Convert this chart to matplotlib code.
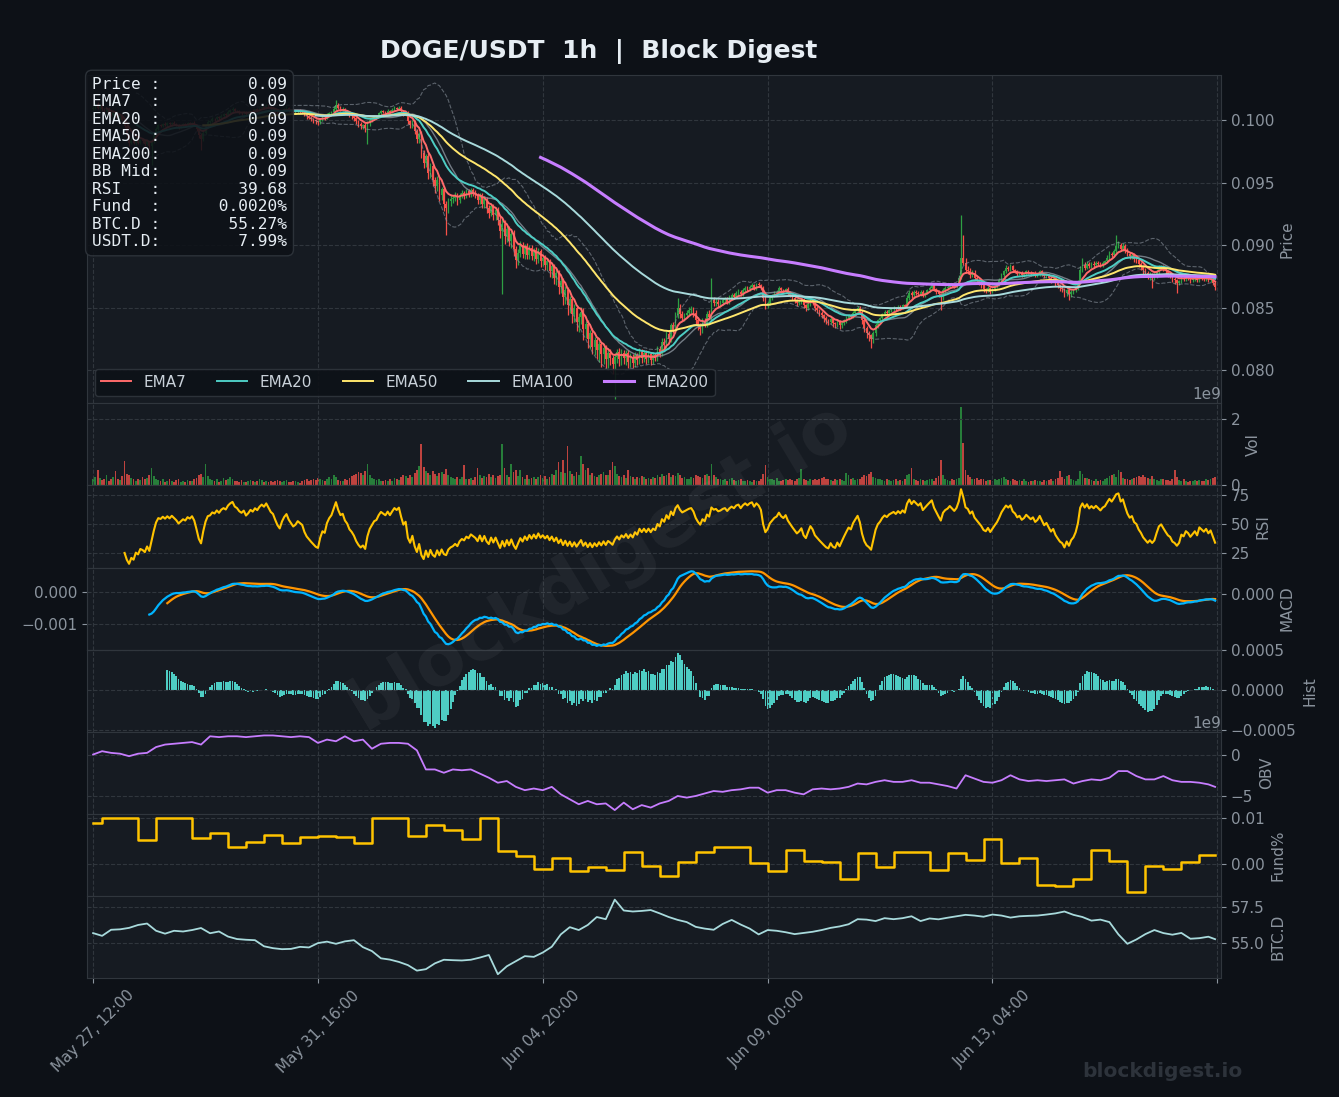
import numpy as np
import pandas as pd
import matplotlib
matplotlib.use("Agg")
import matplotlib.pyplot as plt
from matplotlib.ticker import MultipleLocator, FuncFormatter, FormatStrFormatter
from matplotlib.lines import Line2D

# ---------------- data ----------------
START = "2025-05-27 12:00"
FIRST_OPEN_E5 = 10090

CLOSE_E5 = [
    10100, 10130, 10095, 10120, 10085, 10070, 10090, 10055, 10040, 10060,
    10030, 10015, 10030, 10000, 9950, 9880, 9820, 9840, 9815, 9840,
    9820, 9840, 9830, 9810, 9830, 9790, 9830, 9880, 9930, 9960,
    9955, 9970, 9960, 9975, 9965, 9980, 9970, 9960, 9945, 9955,
    9965, 9960, 9975, 9970, 9980, 9965, 9930, 9880, 9850, 9900,
    9950, 9985, 9990, 10010, 10005, 10025, 10015, 10035, 10045, 10040,
    10065, 10080, 10090, 10075, 10070, 10060, 10055, 10065, 10050, 10060,
    10075, 10070, 10085, 10080, 10095, 10105, 10100, 10115, 10105, 10095,
    10090, 10075, 10060, 10050, 10070, 10085, 10095, 10080, 10070, 10060,
    10065, 10075, 10070, 10065, 10045, 10030, 10020, 10010, 10000, 9990,
    9985, 10005, 10020, 10015, 10040, 10055, 10065, 10090, 10120, 10100,
    10085, 10090, 10070, 10060, 10040, 10030, 10015, 9990, 9970, 9955,
    9960, 9940, 9975, 10000, 10015, 10030, 10035, 10055, 10070, 10065,
    10060, 10075, 10065, 10080, 10095, 10090, 10100, 10075, 10050, 10060,
    9990, 9960, 9985, 9910, 9850, 9885, 9740, 9660, 9710, 9580,
    9630, 9520, 9470, 9520, 9400, 9450, 9330, 9300, 9350, 9370,
    9380, 9400, 9360, 9400, 9420, 9400, 9430, 9410, 9440, 9420,
    9400, 9360, 9400, 9330, 9370, 9300, 9260, 9310, 9240, 9280,
    9200, 9110, 9170, 9070, 9130, 9030, 9090, 8970, 8880, 8940,
    9000, 8930, 8990, 8920, 8980, 8910, 8960, 8890, 8950, 8870,
    8900, 8840, 8870, 8790, 8830, 8740, 8780, 8670, 8710, 8590,
    8640, 8520, 8570, 8450, 8500, 8390, 8430, 8470, 8330, 8370,
    8250, 8300, 8190, 8240, 8160, 8210, 8130, 8180, 8090, 8140,
    8100, 8050, 8110, 8150, 8090, 8140, 8100, 8140, 8070, 8110,
    8060, 8120, 8080, 8150, 8100, 8140, 8090, 8130, 8080, 8120,
    8100, 8170, 8140, 8230, 8200, 8290, 8250, 8360, 8320, 8440,
    8500, 8450, 8420, 8440, 8460, 8480, 8490, 8460, 8400, 8360,
    8330, 8390, 8370, 8450, 8430, 8560, 8540, 8550, 8530, 8540,
    8560, 8570, 8550, 8580, 8600, 8590, 8620, 8630, 8610, 8640,
    8660, 8650, 8670, 8680, 8660, 8690, 8680, 8660, 8580, 8520,
    8540, 8580, 8600, 8620, 8630, 8660, 8640, 8630, 8650, 8620,
    8600, 8580, 8560, 8540, 8550, 8565, 8520, 8500, 8530, 8560,
    8540, 8500, 8480, 8460, 8440, 8420, 8400, 8390, 8410, 8380,
    8370, 8390, 8360, 8380, 8400, 8420, 8440, 8430, 8460, 8480,
    8500, 8470, 8400, 8340, 8300, 8280, 8250, 8300, 8360, 8400,
    8420, 8450, 8470, 8460, 8480, 8490, 8500, 8490, 8510, 8500,
    8520, 8510, 8580, 8620, 8600, 8630, 8620, 8610, 8630, 8600,
    8620, 8640, 8660, 8680, 8650, 8630, 8610, 8590, 8640, 8660,
    8670, 8690, 8680, 8670, 8690, 8740, 8900, 8860, 8800, 8790,
    8760, 8780, 8740, 8720, 8700, 8680, 8650, 8640, 8660, 8630,
    8650, 8670, 8690, 8720, 8760, 8790, 8820, 8810, 8830, 8800,
    8790, 8770, 8780, 8760, 8770, 8790, 8780, 8770, 8780, 8760,
    8770, 8790, 8770, 8750, 8760, 8740, 8720, 8730, 8700, 8680,
    8660, 8650, 8620, 8640, 8610, 8630, 8640, 8660, 8700, 8800,
    8840, 8820, 8850, 8830, 8850, 8840, 8860, 8850, 8840, 8860,
    8870, 8900, 8930, 8920, 8950, 8990, 9000, 8970, 8990, 8960,
    8930, 8910, 8920, 8890, 8880, 8850, 8830, 8800, 8780, 8760,
    8770, 8750, 8760, 8790, 8820, 8830, 8810, 8790, 8770, 8760,
    8730, 8720, 8700, 8710, 8740, 8730, 8750, 8740, 8720, 8730,
    8740, 8720, 8750, 8740, 8730, 8740, 8720, 8730, 8700, 8665,
]

HI_WICK_E5 = [
    12, 8, 15, 10, 6, 14, 9, 11, 7, 13,
    10, 8, 12, 6, 9, 7, 10, 14, 8, 11,
    9, 12, 7, 10, 8, 6, 20, 15, 18, 12,
    10, 8, 14, 9, 11, 7, 12, 8, 10, 6,
    9, 11, 8, 12, 7, 10, 6, 9, 14, 20,
    18, 12, 9, 11, 8, 10, 7, 12, 9, 11,
    14, 10, 12, 8, 9, 11, 7, 10, 8, 12,
    9, 11, 7, 10, 12, 8, 9, 13, 10, 7,
    8, 10, 6, 9, 12, 10, 14, 8, 9, 7,
    10, 8, 11, 7, 9, 6, 8, 10, 7, 9,
    8, 12, 10, 9, 14, 12, 10, 25, 40, 18,
    15, 12, 10, 8, 11, 9, 7, 10, 8, 12,
    10, 14, 20, 15, 12, 10, 9, 13, 11, 8,
    10, 12, 9, 14, 18, 11, 15, 10, 8, 12,
    10, 14, 12, 18, 15, 20, 25, 22, 18, 30,
    25, 20, 28, 30, 22, 18, 25, 20, 30, 28,
    22, 25, 18, 20, 24, 15, 22, 18, 20, 16,
    18, 14, 20, 16, 22, 18, 25, 20, 18, 22,
    25, 30, 40, 28, 22, 20, 25, 30, 22, 28,
    30, 25, 22, 28, 20, 24, 18, 22, 26, 20,
    24, 20, 18, 22, 25, 20, 28, 24, 30, 26,
    35, 30, 25, 28, 30, 22, 26, 35, 28, 25,
    30, 25, 35, 28, 22, 25, 20, 28, 24, 22,
    30, 25, 28, 22, 25, 30, 20, 24, 22, 26,
    20, 25, 22, 28, 20, 18, 22, 25, 20, 24,
    22, 28, 25, 30, 28, 25, 30, 22, 28, 25,
    80, 30, 25, 22, 20, 25, 22, 18, 20, 25,
    22, 25, 30, 28, 35, 180, 30, 25, 20, 22,
    18, 20, 15, 22, 18, 20, 15, 18, 14, 16,
    15, 18, 12, 16, 14, 12, 15, 10, 14, 12,
    15, 18, 14, 16, 12, 15, 10, 14, 12, 15,
    12, 10, 14, 12, 10, 15, 12, 10, 14, 18,
    12, 10, 14, 11, 13, 10, 12, 9, 14, 11,
    10, 12, 9, 13, 11, 14, 12, 10, 15, 12,
    14, 12, 10, 13, 11, 15, 12, 18, 15, 12,
    10, 12, 9, 11, 13, 10, 12, 9, 11, 10,
    12, 14, 20, 25, 18, 15, 12, 14, 11, 13,
    10, 12, 14, 18, 12, 10, 13, 11, 15, 12,
    10, 12, 9, 11, 10, 20, 340, 180, 40, 30,
    25, 20, 18, 15, 12, 14, 10, 12, 11, 9,
    12, 10, 14, 16, 18, 15, 20, 14, 16, 12,
    10, 12, 9, 11, 10, 12, 9, 11, 8, 10,
    9, 12, 10, 8, 11, 9, 10, 8, 12, 9,
    10, 12, 9, 11, 10, 12, 9, 14, 20, 30,
    60, 25, 20, 18, 15, 20, 14, 16, 12, 15,
    14, 20, 25, 18, 22, 90, 30, 20, 25, 18,
    15, 18, 14, 16, 12, 14, 12, 10, 14, 11,
    12, 10, 14, 16, 20, 15, 12, 14, 10, 12,
    10, 14, 12, 10, 12, 9, 11, 10, 8, 12,
    10, 12, 9, 11, 10, 12, 9, 10, 8, 10,
]

LO_WICK_E5 = [
    10, 12, 8, 14, 9, 11, 7, 13, 10, 8,
    12, 9, 11, 8, 15, 20, 25, 12, 10, 14,
    11, 9, 13, 15, 10, 20, 150, 14, 10, 12,
    9, 11, 8, 12, 10, 14, 9, 11, 15, 10,
    8, 12, 10, 9, 11, 14, 20, 25, 90, 15,
    12, 10, 14, 9, 11, 8, 12, 10, 9, 13,
    10, 8, 12, 14, 9, 11, 13, 8, 15, 10,
    9, 12, 8, 11, 10, 9, 12, 8, 10, 14,
    12, 15, 18, 20, 10, 9, 8, 12, 14, 11,
    10, 9, 12, 11, 15, 18, 14, 16, 20, 18,
    22, 15, 12, 14, 10, 9, 12, 10, 15, 14,
    12, 10, 14, 16, 18, 20, 22, 25, 28, 30,
    25, 35, 130, 20, 15, 12, 10, 9, 11, 12,
    10, 9, 12, 8, 10, 11, 9, 14, 18, 20,
    18, 22, 20, 25, 30, 35, 40, 45, 38, 50,
    40, 45, 50, 35, 48, 40, 55, 220, 40, 35,
    30, 28, 35, 25, 22, 30, 25, 28, 22, 26,
    24, 28, 30, 35, 32, 40, 45, 30, 38, 42,
    40, 55, 500, 60, 45, 40, 50, 60, 65, 40,
    35, 30, 38, 28, 32, 30, 35, 40, 32, 45,
    38, 35, 42, 45, 50, 48, 55, 60, 55, 70,
    60, 80, 65, 70, 60, 75, 80, 60, 85, 70,
    75, 80, 60, 65, 70, 90, 100, 80, 75, 70,
    60, 80, 280, 50, 55, 45, 50, 60, 55, 45,
    40, 35, 38, 30, 42, 35, 40, 32, 35, 30,
    28, 25, 30, 22, 25, 20, 22, 25, 20, 22,
    25, 30, 28, 25, 22, 20, 25, 30, 35, 40,
    45, 30, 25, 22, 20, 25, 22, 28, 25, 22,
    20, 18, 22, 16, 15, 18, 14, 16, 18, 15,
    14, 16, 12, 15, 18, 14, 12, 16, 25, 30,
    22, 18, 15, 14, 16, 12, 15, 14, 12, 16,
    15, 18, 20, 22, 18, 20, 25, 22, 18, 15,
    18, 22, 25, 28, 24, 30, 28, 25, 22, 30,
    28, 25, 30, 22, 20, 18, 16, 15, 14, 12,
    15, 20, 30, 35, 40, 45, 70, 30, 25, 20,
    18, 15, 14, 12, 15, 14, 12, 15, 13, 14,
    12, 15, 14, 20, 18, 15, 14, 16, 12, 15,
    14, 12, 15, 13, 16, 18, 20, 110, 25, 18,
    15, 12, 14, 13, 12, 15, 12, 20, 25, 22,
    20, 18, 22, 25, 20, 18, 22, 20, 16, 18,
    15, 14, 12, 15, 13, 14, 12, 15, 13, 16,
    14, 15, 12, 16, 13, 14, 12, 15, 14, 16,
    13, 14, 15, 12, 16, 18, 20, 15, 22, 25,
    28, 25, 30, 22, 50, 20, 18, 15, 14, 12,
    14, 15, 12, 14, 13, 15, 12, 14, 16, 12,
    14, 12, 15, 13, 12, 14, 16, 18, 15, 20,
    18, 22, 20, 25, 22, 28, 25, 30, 28, 30,
    35, 90, 25, 20, 18, 15, 20, 22, 25, 20,
    25, 30, 80, 20, 15, 18, 14, 16, 20, 15,
    14, 16, 12, 15, 13, 14, 16, 15, 20, 22,
]

VOL_E7 = [
    18, 25, 47, 22, 15, 20, 30, 12, 18, 24,
    42, 20, 16, 28, 73, 35, 30, 22, 18, 14,
    20, 16, 25, 18, 22, 30, 53, 28, 20, 15,
    12, 18, 10, 14, 20, 12, 9, 15, 18, 11,
    13, 10, 16, 12, 14, 18, 22, 30, 35, 25,
    66, 28, 20, 15, 12, 18, 10, 14, 22, 16,
    20, 25, 18, 14, 12, 10, 15, 11, 9, 13,
    16, 12, 10, 14, 18, 15, 11, 13, 9, 12,
    10, 14, 16, 12, 10, 13, 15, 9, 11, 12,
    14, 10, 8, 12, 15, 18, 14, 16, 20, 17,
    22, 18, 15, 12, 20, 26, 18, 30, 24, 16,
    14, 12, 18, 16, 22, 28, 30, 35, 40, 38,
    30, 44, 66, 30, 22, 18, 15, 20, 14, 12,
    16, 12, 18, 14, 22, 20, 15, 25, 30, 28,
    22, 30, 26, 38, 45, 60, 124, 56, 42, 38,
    30, 42, 35, 28, 36, 40, 33, 48, 30, 25,
    22, 20, 26, 18, 24, 61, 20, 18, 22, 16,
    25, 52, 30, 22, 28, 26, 35, 24, 30, 22,
    28, 32, 126, 52, 30, 25, 66, 40, 47, 28,
    47, 25, 20, 30, 18, 22, 26, 20, 24, 30,
    22, 28, 20, 26, 35, 30, 45, 71, 40, 76,
    38, 120, 42, 35, 28, 40, 30, 90, 66, 45,
    52, 30, 38, 28, 25, 30, 35, 40, 32, 30,
    45, 71, 60, 35, 28, 25, 30, 22, 47, 28,
    24, 20, 26, 22, 28, 24, 18, 22, 20, 25,
    22, 30, 26, 35, 28, 30, 38, 24, 32, 28,
    36, 30, 22, 25, 20, 18, 24, 22, 30, 28,
    26, 22, 30, 35, 28, 66, 30, 24, 20, 18,
    16, 20, 14, 18, 22, 16, 12, 15, 18, 14,
    12, 16, 14, 10, 15, 12, 14, 18, 35, 61,
    25, 20, 18, 16, 22, 14, 12, 16, 18, 15,
    20, 16, 14, 18, 22, 49, 20, 16, 14, 18,
    16, 20, 15, 18, 22, 25, 20, 18, 16, 14,
    18, 15, 20, 16, 14, 37, 30, 18, 22, 16,
    20, 18, 25, 30, 28, 35, 40, 24, 22, 20,
    18, 16, 14, 20, 16, 12, 15, 18, 14, 16,
    14, 18, 30, 35, 52, 20, 16, 14, 18, 15,
    12, 16, 20, 18, 14, 22, 28, 76, 30, 20,
    16, 14, 18, 15, 20, 22, 235, 127, 47, 30,
    25, 20, 18, 22, 16, 20, 18, 14, 16, 15,
    14, 18, 16, 20, 22, 25, 18, 16, 14, 18,
    15, 12, 16, 14, 18, 12, 10, 14, 12, 16,
    14, 12, 10, 15, 13, 16, 18, 14, 20, 22,
    42, 25, 20, 28, 30, 18, 16, 14, 20, 42,
    35, 22, 22, 18, 16, 14, 18, 12, 15, 14,
    18, 22, 28, 30, 35, 25, 47, 40, 22, 18,
    20, 16, 18, 22, 26, 28, 24, 30, 26, 22,
    20, 28, 18, 16, 14, 20, 18, 15, 16, 14,
    20, 47, 25, 16, 14, 18, 12, 10, 14, 12,
    15, 13, 16, 12, 14, 18, 15, 20, 22, 25,
]

# funding rate (%), one value per 8h funding period
FUND_PCT = [
    0.0090, 0.0101, 0.0101, 0.0053, 0.0101, 0.0101, 0.0056, 0.0067, 0.0036, 0.0048,
    0.0063, 0.0046, 0.0058, 0.0060, 0.0058, 0.0046, 0.0101, 0.0101, 0.0060, 0.0084,
    0.0075, 0.0054, 0.0101, 0.0029, 0.0017, -0.0011, 0.0014, -0.0014, -0.0007, -0.0012,
    0.0027, -0.0004, -0.0027, 0.0004, 0.0027, 0.0036, 0.0036, 0.0002, -0.0015, 0.0031,
    0.0006, 0.0004, -0.0033, 0.0025, -0.0007, 0.0027, 0.0027, -0.0012, 0.0025, 0.0009,
    0.0054, 0.0002, 0.0013, -0.0045, -0.0047, -0.0033, 0.0030, 0.0007, -0.0061, -0.0004,
    -0.0011, 0.0004, 0.0020,
]

# OBV (units of 1e8) and BTC dominance (units of 0.01 %), sampled every 4 hours
OBV_E8 = [
    0, 4, 2, 1, -2, 1, 2, 9, 12, 13,
    14, 15, 12, 22, 21, 22, 22, 21, 22, 23,
    23, 22, 21, 22, 21, 14, 18, 16, 22, 16,
    18, 7, 13, 14, 14, 13, 5, -18, -18, -22,
    -18, -19, -18, -23, -28, -34, -32, -39, -43, -41,
    -43, -39, -48, -54, -60, -56, -60, -59, -67, -58,
    -66, -61, -64, -59, -56, -50, -52, -50, -47, -44,
    -45, -43, -42, -40, -40, -46, -43, -43, -46, -48,
    -42, -41, -42, -41, -39, -35, -36, -33, -31, -33,
    -33, -31, -34, -34, -36, -38, -41, -25, -29, -33,
    -34, -31, -25, -30, -32, -31, -32, -31, -30, -35,
    -32, -30, -31, -28, -20, -20, -26, -30, -30, -26,
    -31, -33, -33, -34, -36, -39,
]
BTCD_E2 = [
    5569, 5550, 5592, 5595, 5605, 5625, 5635, 5585, 5565, 5585,
    5580, 5590, 5604, 5568, 5580, 5545, 5528, 5523, 5520, 5478,
    5465, 5458, 5460, 5474, 5470, 5500, 5510, 5495, 5512, 5520,
    5472, 5445, 5395, 5386, 5370, 5348, 5310, 5320, 5360, 5385,
    5382, 5380, 5385, 5400, 5418, 5285, 5340, 5375, 5410, 5405,
    5435, 5475, 5560, 5610, 5590, 5625, 5680, 5665, 5800, 5725,
    5718, 5722, 5728, 5705, 5680, 5660, 5645, 5612, 5600, 5592,
    5632, 5660, 5628, 5600, 5560, 5590, 5585, 5575, 5562, 5570,
    5578, 5590, 5605, 5615, 5630, 5665, 5662, 5652, 5672, 5665,
    5672, 5685, 5652, 5670, 5664, 5675, 5685, 5695, 5690, 5682,
    5697, 5690, 5676, 5685, 5688, 5690, 5697, 5705, 5718, 5695,
    5680, 5655, 5662, 5645, 5560, 5495, 5525, 5562, 5590, 5569,
    5558, 5570, 5530, 5534, 5544, 5527,
]

INFO_RSI = 39.68
INFO_FUND = 0.0020
INFO_BTCD = 55.27
INFO_USDTD = 7.99

# ---------------- derived series ----------------
N = len(CLOSE_E5)
for name, arr in [("hi", HI_WICK_E5), ("lo", LO_WICK_E5), ("vol", VOL_E7)]:
    if len(arr) != N:
        raise ValueError(f"{name} length {len(arr)} != {N}")

x = np.arange(N)
dates = pd.date_range(START, periods=N, freq="h")
close = np.array(CLOSE_E5) * 1e-5
opn = np.r_[FIRST_OPEN_E5 * 1e-5, close[:-1]]
high = np.maximum(opn, close) + np.array(HI_WICK_E5) * 1e-5
low = np.minimum(opn, close) - np.array(LO_WICK_E5) * 1e-5
vol = np.array(VOL_E7) * 1e7
s = pd.Series(close)

ema = {n: s.ewm(span=n, adjust=False, min_periods=n).mean() for n in (7, 20, 50, 100, 200)}
bb_mid = s.rolling(20).mean()
bb_std = s.rolling(20).std()
bb_up, bb_dn = bb_mid + 2 * bb_std, bb_mid - 2 * bb_std

delta = s.diff()
gain = delta.clip(lower=0).ewm(alpha=1 / 14, adjust=True, min_periods=14).mean()
loss = (-delta.clip(upper=0)).ewm(alpha=1 / 14, adjust=True, min_periods=14).mean()
rsi = 100 - 100 / (1 + gain / loss)

ema12 = s.ewm(span=12, adjust=False, min_periods=12).mean()
ema26 = s.ewm(span=26, adjust=False, min_periods=26).mean()
macd = ema12 - ema26
signal = macd.ewm(span=9, adjust=False, min_periods=9).mean()
hist = macd - signal

fund_hours = [0] + list(range(4, N, 8))
fund_x = fund_hours + [N - 1]
fund_y = FUND_PCT + [FUND_PCT[-1]]

samp_hours = list(range(0, N, 4)) + [N - 1]

# ---------------- style ----------------
BG = "#0d1117"
PANEL = "#161b22"
GRID = "#30363d"
TXT = "#8b949e"
UP = "#2ea043"
DN = "#f85149"

fig = plt.figure(figsize=(13.39, 10.97), dpi=100, facecolor=BG)
gs = fig.add_gridspec(8, 1, height_ratios=[4, 1, 1, 1, 1, 1, 1, 1],
                      left=0.065, right=0.912, top=0.9316, bottom=0.1085, hspace=0)
axes = [fig.add_subplot(gs[0])]
for i in range(1, 8):
    axes.append(fig.add_subplot(gs[i], sharex=axes[0]))
ax_p, ax_v, ax_r, ax_m, ax_h, ax_o, ax_f, ax_b = axes


def style(ax, label):
    ax.set_facecolor(PANEL)
    for sp in ax.spines.values():
        sp.set_color(GRID)
    ax.grid(True, color=GRID, linestyle="--", linewidth=0.8)
    ax.yaxis.tick_right()
    ax.yaxis.set_label_position("right")
    ax.tick_params(colors=TXT, labelsize=11)
    ax.set_ylabel(label, color=TXT, fontsize=11)
    ax.yaxis.get_offset_text().set_color(TXT)
    ax.yaxis.get_offset_text().set_fontsize(11)


for ax, lab in zip(axes, ["Price", "Vol", "RSI", "", "Hist", "OBV", "Fund%", "BTC.D"]):
    style(ax, lab)

colors = np.where(close >= opn, UP, DN)

# price panel
ax_p.vlines(x, low, high, colors=colors, linewidth=0.9, zorder=2)
body = np.maximum(np.abs(close - opn), 0.00002)
ax_p.bar(x, body, bottom=np.minimum(opn, close), width=0.75, color=colors, linewidth=0, zorder=2)
ax_p.plot(x, bb_up, color=TXT, linestyle="--", linewidth=0.8, alpha=0.6, zorder=3)
ax_p.plot(x, bb_dn, color=TXT, linestyle="--", linewidth=0.8, alpha=0.6, zorder=3)
ax_p.plot(x, bb_mid, color=TXT, linewidth=1.0, alpha=0.8, zorder=3)
ema_style = {7: ("#ff6b6b", 1.4), 20: ("#4ecdc4", 1.4), 50: ("#ffe66d", 1.4),
             100: ("#a8dadc", 1.4), 200: ("#c77dff", 2.2)}
handles = []
for n, (c, lw) in ema_style.items():
    ax_p.plot(x, ema[n], color=c, linewidth=lw, zorder=4)
    handles.append(Line2D([], [], color=c, linewidth=lw, label=f"EMA{n}"))
ax_p.set_ylim(0.07736, 0.1036)
ax_p.yaxis.set_major_locator(MultipleLocator(0.005))
ax_p.yaxis.set_major_formatter(FormatStrFormatter("%.3f"))
leg = ax_p.legend(handles=handles, loc="lower left", ncol=5, fontsize=11,
                  facecolor=BG, edgecolor=GRID, framealpha=0.9)
for t in leg.get_texts():
    t.set_color("#c9d1d9")

info_rows = [
    ("Price", f"{close[-1]:.2f}"),
    ("EMA7", f"{ema[7].iloc[-1]:.2f}"),
    ("EMA20", f"{ema[20].iloc[-1]:.2f}"),
    ("EMA50", f"{ema[50].iloc[-1]:.2f}"),
    ("EMA200", f"{ema[200].iloc[-1]:.2f}"),
    ("BB Mid", f"{bb_mid.iloc[-1]:.2f}"),
    ("RSI", f"{INFO_RSI:.2f}"),
    ("Fund", f"{INFO_FUND:.4f}%"),
    ("BTC.D", f"{INFO_BTCD:.2f}%"),
    ("USDT.D", f"{INFO_USDTD:.2f}%"),
]
info = "\n".join(f"{k:<6}:{v:>13}" for k, v in info_rows)
ax_p.text(0.0044, 0.995, info, transform=ax_p.transAxes, ha="left", va="top",
          family="DejaVu Sans Mono", fontsize=11.6, color="#e6edf3", linespacing=1.21,
          zorder=10,
          bbox=dict(boxstyle="round,pad=0.4", facecolor=BG, edgecolor=GRID, alpha=0.88))

# volume
ax_v.bar(x, vol, width=0.8, color=colors, alpha=0.75, linewidth=0)
ax_v.yaxis.set_major_locator(MultipleLocator(2e9))

# RSI
ax_r.plot(x, rsi, color="#ffc300", linewidth=1.5)
ax_r.yaxis.set_major_locator(MultipleLocator(25))

# MACD (signal on left axis, MACD on twin right axis)
ax_m2 = ax_m.twinx()
ax_m.plot(x, signal, color="#ff9500", linewidth=1.6)
ax_m2.plot(x, macd, color="#00b4ff", linewidth=1.6)
ax_m.yaxis.set_major_locator(MultipleLocator(0.001))
ax_m2.yaxis.set_major_locator(MultipleLocator(0.002))
ax_m.tick_params(colors=TXT, labelsize=11)
ax_m2.tick_params(colors=TXT, labelsize=11)
for sp in ax_m2.spines.values():
    sp.set_color(GRID)
ax_m2.set_ylabel("MACD", color=TXT, fontsize=11)

# histogram
ax_h.bar(x, hist, width=0.8, color="#4ecdc4")
ax_h.yaxis.set_major_locator(MultipleLocator(0.0005))

# OBV
ax_o.plot(samp_hours, np.array(OBV_E8) * 1e8, color="#c77dff", linewidth=1.3)
ax_o.yaxis.set_major_locator(MultipleLocator(5e9))

# funding
ax_f.step(fund_x, fund_y, where="post", color="#ffc300", linewidth=1.8)
ax_f.yaxis.set_major_locator(MultipleLocator(0.01))
ax_f.yaxis.set_major_formatter(FormatStrFormatter("%.2f"))

# BTC dominance
ax_b.plot(samp_hours, np.array(BTCD_E2) / 100, color="#a8dadc", linewidth=1.3)
ax_b.yaxis.set_major_locator(MultipleLocator(2.5))
ax_b.yaxis.set_major_formatter(FormatStrFormatter("%.1f"))

# x axis
ax_b.set_xlim(-2.7, N + 1.7)
ax_b.xaxis.set_major_locator(MultipleLocator(100))
ax_b.xaxis.set_major_formatter(FuncFormatter(
    lambda v, pos: dates[int(round(v))].strftime("%b %d, %H:%M") if 0 <= int(round(v)) < N else ""))
for ax in axes[:-1]:
    ax.tick_params(axis="x", labelbottom=False, length=0)
for lbl in ax_b.get_xticklabels():
    lbl.set_rotation(45)
    lbl.set_ha("center")
ax_b.tick_params(axis="x", labelsize=11, colors=TXT)

fig.text(0.4474, 0.9526, "DOGE/USDT  1h  |  Block Digest", ha="center", va="center",
         fontsize=18, fontweight="bold", color="#e6edf3")
fig.text(0.448, 0.485, "blockdigest.io", ha="center", va="center", rotation=31,
         fontsize=52, fontweight="bold", color="white", alpha=0.05)
fig.text(0.868, 0.0237, "blockdigest.io", ha="center", va="center",
         fontsize=14.5, fontweight="bold", color="#2d333b")

fig.savefig("out.png", dpi=100, facecolor=BG)
